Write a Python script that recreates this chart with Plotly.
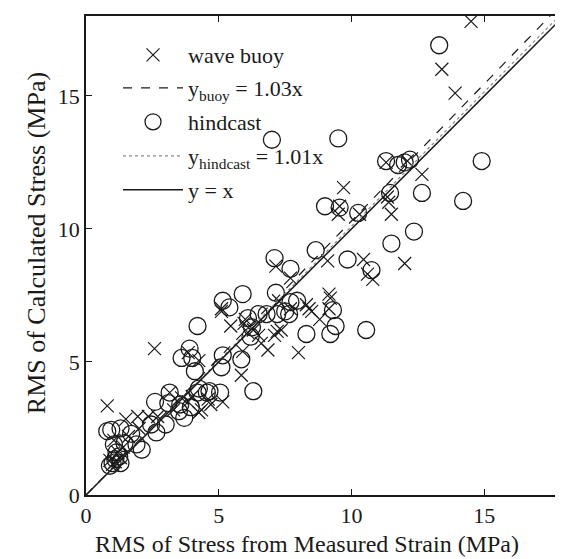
import plotly.graph_objects as go

# wave buoy (x markers)
buoy_x = [14.5, 13.4, 13.9, 12.1, 11.3, 12.65, 11.4, 9.7, 9.55, 9.5, 10.3, 11.5, 9.1, 10.45, 10.8,
          12.0, 9.15, 9.2, 9.15, 8.3, 8.4, 8.8, 7.15, 7.7, 7.25, 7.7, 7.2, 6.85, 8.0, 7.35, 7.1,
          6.6, 5.95, 5.45, 5.1, 5.1, 5.9, 5.85, 5.15, 4.7, 4.25, 4.35, 3.85, 4.25, 3.85, 3.6,
          2.58, 0.8, 1.5, 1.95, 2.35, 2.7, 3.15, 1.3, 1.1, 1.0, 0.9, 1.2, 1.4, 1.05, 1.6, 2.0,
          3.3, 4.0, 4.6, 6.1, 6.5, 6.0, 6.3, 8.5, 11.35, 10.6]
buoy_y = [17.8, 16.0, 15.1, 12.55, 12.5, 12.05, 11.0, 11.55, 10.85, 10.55, 10.55, 10.55, 8.8, 8.85, 8.1,
          8.7, 7.55, 7.4, 7.0, 7.15, 7.0, 6.6, 8.6, 8.15, 7.3, 7.0, 6.15, 5.45, 5.35, 6.2, 6.0,
          5.7, 6.45, 6.35, 6.9, 7.0, 5.4, 4.5, 3.5, 3.4, 3.1, 3.2, 5.35, 5.05, 3.5, 3.65,
          5.5, 3.35, 2.85, 2.95, 2.95, 2.95, 3.85, 1.4, 1.25, 1.15, 1.3, 1.6, 1.8, 2.05, 2.2, 2.5,
          3.2, 3.7, 3.6, 6.1, 6.0, 6.6, 6.2, 6.9, 11.2, 8.3]

# hindcast (circle markers)
hind_x = [13.3, 9.5, 7.0, 14.9, 11.3, 11.75, 12.2, 12.0, 11.45, 12.65, 14.2, 9.0, 9.55, 10.25, 12.35,
          11.5, 8.65, 9.85, 10.75, 7.1, 7.7, 7.15, 7.95, 7.7, 7.65, 9.3, 9.4, 9.2, 10.55, 8.3,
          6.8, 7.2, 7.5, 6.5, 6.1, 6.25, 6.2, 5.9, 5.15, 5.4, 4.2, 5.85, 5.15, 5.1, 6.3, 3.9,
          4.0, 3.6, 4.1, 4.25, 4.55, 5.05, 3.15, 3.55, 3.1, 2.6, 3.95, 3.5, 4.2, 4.65, 3.7,
          3.0, 2.65, 2.45, 0.95, 1.3, 0.8, 1.7, 1.9, 1.45, 1.05, 2.1, 1.1, 1.0, 1.25, 0.9,
          1.15, 1.3]
hind_y = [16.9, 13.4, 13.35, 12.55, 12.55, 12.4, 12.6, 12.5, 11.35, 11.35, 11.05, 10.85, 10.8, 10.6, 9.9,
          9.45, 9.2, 8.85, 8.45, 8.9, 8.5, 7.6, 7.3, 7.25, 6.8, 6.95, 6.35, 6.05, 6.2, 6.05,
          6.8, 6.8, 6.9, 6.8, 6.65, 6.3, 5.95, 7.55, 7.3, 7.05, 6.35, 5.1, 5.25, 4.8, 3.9, 5.5,
          5.15, 5.15, 4.65, 4.0, 3.85, 3.85, 3.85, 3.4, 3.45, 3.5, 3.3, 3.15, 3.85, 3.9, 2.9,
          2.65, 2.35, 2.65, 2.45, 2.5, 2.4, 2.3, 1.9, 1.95, 1.9, 1.7, 1.35, 1.2, 1.45, 1.1,
          1.6, 1.2]

line_x = [0, 18]
slope_buoy = 1.03
slope_hind = 1.01

x_title = "RMS of Stress from Measured Strain (MPa)"
y_title = "RMS of Calculated Stress (MPa)"

font_family = "Liberation Serif"
ink = "#1a1a1a"

fig = go.Figure()
fig.add_trace(go.Scatter(
    x=buoy_x, y=buoy_y, mode="markers", name="wave buoy", legend="legend",
    marker=dict(symbol="x-thin-open", size=13, line=dict(color=ink, width=1.2), color=ink)))
fig.add_trace(go.Scatter(
    x=line_x, y=[v * slope_buoy for v in line_x], mode="lines", legend="legend2",
    name="y<sub>buoy</sub> = 1.03x", line=dict(color=ink, width=1.2, dash="dash")))
fig.add_trace(go.Scatter(
    x=hind_x, y=hind_y, mode="markers", name="hindcast", legend="legend3",
    marker=dict(symbol="circle-open", size=17, line=dict(color=ink, width=1.3), color=ink)))
fig.add_trace(go.Scatter(
    x=line_x, y=[v * slope_hind for v in line_x], mode="lines", legend="legend4",
    name="y<sub>hindcast</sub> = 1.01x", line=dict(color="#888888", width=1.2, dash="dot")))
fig.add_trace(go.Scatter(
    x=line_x, y=line_x, mode="lines", name="y = x", legend="legend5",
    line=dict(color=ink, width=1.5)))

axis_common = dict(
    range=[0, 18], tickvals=[0, 5, 10, 15], ticks="inside", ticklen=6, tickcolor=ink,
    showline=True, linecolor=ink, linewidth=1.5, mirror="ticks", showgrid=False, zeroline=False,
    tickfont=dict(family=font_family, size=22, color=ink),
)

def leg(ypos):
    return dict(x=0.067, y=ypos, xanchor="left", yanchor="middle", bgcolor="rgba(0,0,0,0)",
                font=dict(family=font_family, size=22, color=ink), itemwidth=60)

fig.update_layout(
    width=563, height=559,
    margin=dict(l=78, r=5, t=8, b=72),
    paper_bgcolor="white", plot_bgcolor="white",
    font=dict(family=font_family, size=20, color=ink),
    xaxis=axis_common,
    yaxis=axis_common,
    showlegend=True,
    legend=leg((487 - 47) / 479),
    legend2=leg((487 - 80) / 479),
    legend3=leg((487 - 114) / 479),
    legend4=leg((487 - 148) / 479),
    legend5=leg((487 - 182) / 479),
    annotations=[
        dict(text=x_title, xref="paper", yref="paper", x=(300 - 78) / 480, y=(487 - 536) / 479,
             xanchor="center", yanchor="middle", showarrow=False,
             font=dict(family=font_family, size=24, color=ink)),
        dict(text=y_title, xref="paper", yref="paper", x=(28 - 78) / 480, y=(487 - 235) / 479,
             xanchor="center", yanchor="middle", showarrow=False, textangle=-90,
             font=dict(family=font_family, size=26, color=ink)),
    ],
)

fig.write_html("out.html")
